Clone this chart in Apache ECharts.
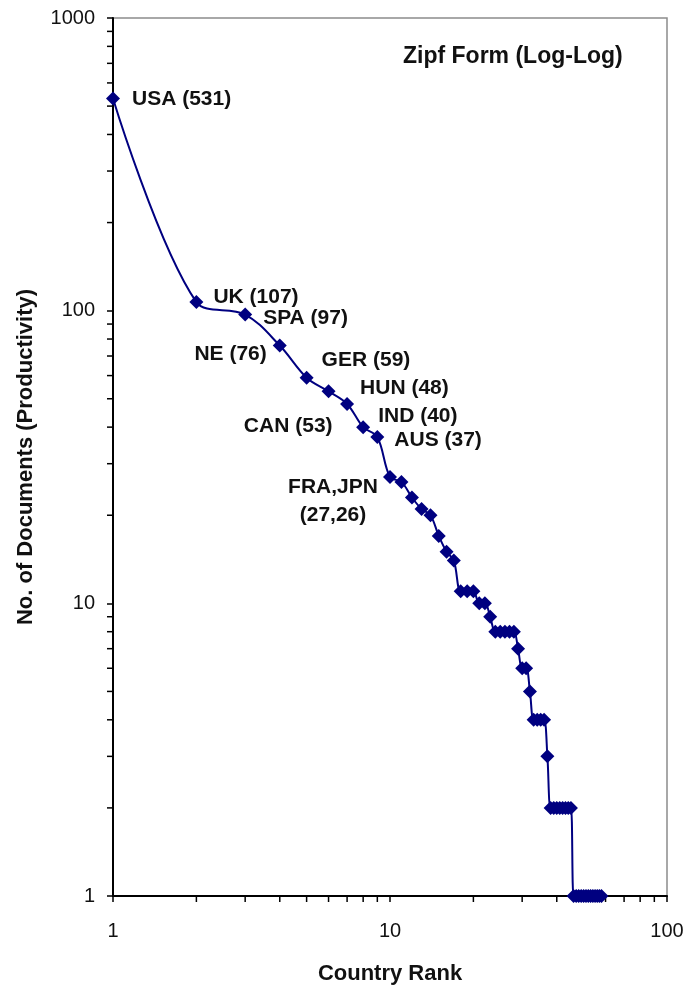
<!DOCTYPE html>
<html>
<head>
<meta charset="utf-8">
<script src="https://cdn.jsdelivr.net/npm/echarts@6/dist/echarts.min.js"></script>
<style>html,body{margin:0;padding:0;background:#fff}#c{width:684px;height:985px}</style>
</head>
<body>
<div id="c"></div>
<script>
// ---- data ----
var ranks = [];
for (var r = 1; r <= 58; r++) ranks.push(r);
var documents = [531,107,97,76,59,53,48,40,37,27,26,23,21,20,17,15,14,11,11,11,10,10,9,8,8,8,8,8,7,6,6,5,4,4,4,4,3,2,2,2,2,2,2,2,2,1,1,1,1,1,1,1,1,1,1,1,1,1];
var labelRanks = [1,2,3,4,5,6,7,8,9,10];
var labelTexts = ['USA (531)','UK (107)','SPA (97)','NE (76)','GER (59)','CAN (53)','HUN (48)','IND (40)','AUS (37)','FRA,JPN\n(27,26)'];
var xTickLabels = ['1','10','100'];
var yTickLabels = ['1','10','100','1000'];
var xMinorTicks = [2,3,4,5,6,7,8,9,20,30,40,50,60,70,80,90];
var yMinorTicks = [2,3,4,5,6,7,8,9,20,30,40,50,60,70,80,90,200,300,400,500,600,700,800,900];
var chartTitle = 'Zipf Form (Log-Log)';
var xTitle = 'Country Rank';
var yTitle = 'No. of Documents (Productivity)';

// ---- label layout (styles): offset of text anchor from the point centre ----
var SYM = 14;
var labelLayout = [
  {align:'left', offset:[19,1]},
  {align:'left', offset:[17,-5]},
  {align:'left', offset:[18,4]},
  {align:'right', offset:[-13,9]},
  {align:'left', offset:[15,-18]},
  {align:'right', offset:[4,35]},
  {align:'left', offset:[13,-16]},
  {align:'left', offset:[15,-11]},
  {align:'left', offset:[17,3]},
  {align:'center', offset:[-57,24]}
];

var FONT = 'Liberation Sans, Arial, sans-serif';
var seriesData = ranks.map(function (rk, i) {
  var item = { value: [rk, documents[i]] };
  var li = labelRanks.indexOf(rk);
  if (li >= 0) {
    item.label = {
      show: true,
      position: [SYM / 2 + labelLayout[li].offset[0], SYM / 2 + labelLayout[li].offset[1]],
      align: labelLayout[li].align,
      verticalAlign: 'middle',
      formatter: labelTexts[li],
      fontFamily: FONT,
      fontWeight: 'bold',
      fontSize: 21,
      lineHeight: 28,
      color: '#111'
    };
  }
  return item;
});

var chart = echarts.init(document.getElementById('c'), null, {renderer:'canvas'});
chart.setOption({
  animation: false,
  backgroundColor: '#fff',
  title: {
    text: chartTitle,
    left: 398, top: 40,
    textStyle: {fontFamily: FONT, fontWeight: 'bold', fontSize: 23, color: '#111'}
  },
  grid: {
    left: 113, right: 17, top: 18, bottom: 89,
    containLabel: false,
    outerBoundsMode: 'none',
    show: true, borderColor: '#8c8c8c', borderWidth: 1.5, backgroundColor: '#fff'
  },
  xAxis: {
    type: 'log', logBase: 10, min: 1, max: 100,
    name: xTitle, nameLocation: 'middle', nameGap: 67, nameMoveOverlap: false,
    nameTextStyle: {fontFamily: FONT, fontWeight: 'bold', fontSize: 22, color: '#111'},
    axisLine: {show: true, onZero: false, lineStyle: {color: '#000', width: 2}},
    axisTick: {show: true, inside: false, length: 6, lineStyle: {color: '#000', width: 1.5}},
    axisLabel: {
      margin: 25, fontFamily: FONT, fontSize: 20, color: '#111',
      formatter: function (v) { var s = String(Math.round(v)); return xTickLabels.indexOf(s) >= 0 ? s : ''; }
    },
    splitLine: {show: false}, minorTick: {show: false}, minorSplitLine: {show: false}
  },
  yAxis: {
    type: 'log', logBase: 10, min: 1, max: 1000,
    name: yTitle, nameLocation: 'middle', nameGap: 76, nameRotate: 90, nameMoveOverlap: false,
    nameTextStyle: {fontFamily: FONT, fontWeight: 'bold', fontSize: 22, color: '#111'},
    axisLine: {show: true, onZero: false, lineStyle: {color: '#000', width: 2}},
    axisTick: {show: true, inside: false, length: 6, lineStyle: {color: '#000', width: 1.5}},
    axisLabel: {
      margin: 18, fontFamily: FONT, fontSize: 20, color: '#111',
      formatter: function (v) { var s = String(Math.round(v)); return yTickLabels.indexOf(s) >= 0 ? s : ''; }
    },
    splitLine: {show: false}, minorTick: {show: false}, minorSplitLine: {show: false}
  },
  series: [
    {
      type: 'custom',
      name: 'xminor',
      silent: true,
      clip: false,
      data: xMinorTicks.map(function (v) { return [v, 1]; }),
      encode: {x: 0, y: 1},
      renderItem: function (params, api) {
        var p = api.coord([api.value(0), 1]);
        return {type: 'line', shape: {x1: p[0], y1: p[1], x2: p[0], y2: p[1] + 6},
                style: {stroke: '#000', lineWidth: 1.5}};
      },
      z: 5
    },
    {
      type: 'custom',
      name: 'yminor',
      silent: true,
      clip: false,
      data: yMinorTicks.map(function (v) { return [1, v]; }),
      encode: {x: 0, y: 1},
      renderItem: function (params, api) {
        var p = api.coord([1, api.value(1)]);
        return {type: 'line', shape: {x1: p[0] - 6, y1: p[1], x2: p[0], y2: p[1]},
                style: {stroke: '#000', lineWidth: 1.5}};
      },
      z: 5
    },
    {
      type: 'line',
      name: 'Documents',
      data: seriesData,
      smooth: 0.35,
      symbol: 'diamond',
      symbolSize: SYM,
      showAllSymbol: true,
      clip: false,
      itemStyle: {color: '#000080'},
      lineStyle: {color: '#000080', width: 2},
      label: {show: false},
      labelLayout: {hideOverlap: false},
      z: 10
    }
  ]
});
</script>
</body>
</html>
